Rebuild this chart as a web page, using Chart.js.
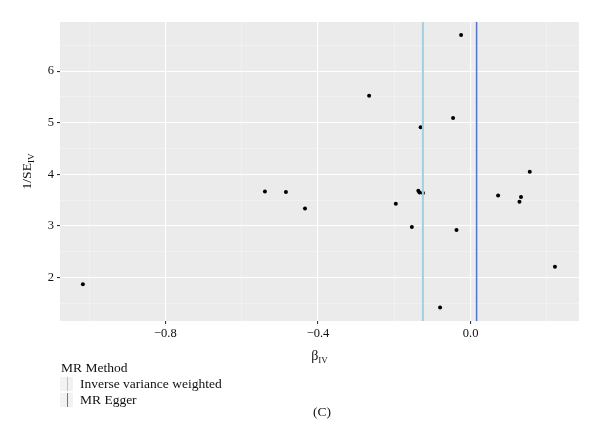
<!DOCTYPE html>
<html lang="en">
<head>
    <script src="https://cdn.jsdelivr.net/npm/chart.js"></script>
    <style>
        body { margin: 0; padding: 0; background: #ffffff; }
        #wrap { width: 600px; height: 439px; }
    </style>
</head>
<body>
    <div id="wrap"><canvas id="funnel" width="600" height="439"></canvas></div>
    <script>
        // Estimates
        const betaIV = [-1.016, -0.539, -0.484, -0.434, -0.266, -0.196, -0.154, -0.137, -0.134, -0.125,
                        -0.131, -0.046, -0.025, -0.037, -0.080, 0.072, 0.132, 0.128, 0.155, 0.221];
        const invSE  = [1.87, 3.67, 3.66, 3.34, 5.52, 3.43, 2.98, 3.68, 3.65, 3.64,
                        4.91, 5.09, 6.70, 2.92, 1.42, 3.59, 3.56, 3.47, 4.05, 2.21];

        // MR estimates (vertical lines)
        const methods = ['Inverse variance weighted', 'MR Egger'];
        const methodBeta = [-0.125, 0.0157];
        const methodColors = ['#a6cee3', '#5077c6'];

        const xMajor = [-0.8, -0.4, 0.0];
        const xMinor = [-1.0, -0.6, -0.2, 0.2];
        const yMajor = [2, 3, 4, 5, 6];
        const yMinor = [1.5, 2.5, 3.5, 4.5, 5.5, 6.5];
        const xRange = [-1.076, 0.284];
        const yRange = [1.16, 6.95];

        const serif = '"Liberation Serif", "Times New Roman", serif';

        function isMajor(list, v) {
            return list.some(m => Math.abs(m - v) < 1e-9);
        }

        const points = betaIV.map((b, i) => ({ x: b, y: invSE[i] }));

        const lineSets = methods.map((m, i) => ({
            type: 'line',
            label: m,
            data: [{ x: methodBeta[i], y: yRange[0] }, { x: methodBeta[i], y: yRange[1] }],
            borderColor: methodColors[i],
            borderWidth: i === 0 ? 2 : 1.5,
            pointRadius: 0,
            order: 0
        }));

        // grey panel behind the plot
        const panelBg = {
            id: 'panelBg',
            beforeDraw(chart) {
                const { ctx, chartArea: a } = chart;
                ctx.save();
                ctx.fillStyle = '#ffffff';
                ctx.fillRect(0, 0, chart.width, chart.height);
                ctx.fillStyle = '#ebebeb';
                ctx.fillRect(a.left, a.top, a.right - a.left, a.bottom - a.top);
                ctx.restore();
            }
        };

        // axis titles with subscripts, legend and panel tag
        const extras = {
            id: 'extras',
            afterDraw(chart) {
                const { ctx, chartArea: a } = chart;
                ctx.save();
                ctx.fillStyle = '#111111';
                ctx.textBaseline = 'alphabetic';

                // x title
                const cx = (a.left + a.right) / 2;
                ctx.font = '14px ' + serif;
                const wb = ctx.measureText('β').width;
                ctx.font = '9px ' + serif;
                const wi = ctx.measureText('IV').width;
                let x0 = cx - (wb + wi) / 2;
                ctx.font = '14px ' + serif;
                ctx.textAlign = 'left';
                ctx.fillText('β', x0, 360);
                ctx.font = '9px ' + serif;
                ctx.fillText('IV', x0 + wb, 363);

                // y title
                ctx.save();
                ctx.translate(31, (a.top + a.bottom) / 2);
                ctx.rotate(-Math.PI / 2);
                ctx.font = '13.5px ' + serif;
                const ws = ctx.measureText('1/SE').width;
                ctx.font = '9px ' + serif;
                const wv = ctx.measureText('IV').width;
                const y0 = -(ws + wv) / 2;
                ctx.font = '13.5px ' + serif;
                ctx.fillText('1/SE', y0, 0);
                ctx.font = '9px ' + serif;
                ctx.fillText('IV', y0 + ws, 3);
                ctx.restore();

                // legend
                ctx.font = '13.5px ' + serif;
                ctx.fillText('MR Method', 61, 372);
                const rowY = [384, 400];
                methods.forEach((m, i) => {
                    ctx.fillStyle = '#f2f2f2';
                    ctx.fillRect(60, rowY[i] - 7, 13, 14);
                    ctx.strokeStyle = methodColors[i];
                    ctx.lineWidth = 1;
                    ctx.beginPath();
                    ctx.moveTo(67.5, rowY[i] - 7);
                    ctx.lineTo(67.5, rowY[i] + 7);
                    ctx.stroke();
                    ctx.fillStyle = '#111111';
                    ctx.textBaseline = 'middle';
                    ctx.fillText(m, 80, rowY[i]);
                    ctx.textBaseline = 'alphabetic';
                });

                // tag
                ctx.textAlign = 'center';
                ctx.font = '13.5px ' + serif;
                ctx.fillText('(C)', 322, 416);
                ctx.restore();
            }
        };

        new Chart(document.getElementById('funnel'), {
            type: 'scatter',
            data: {
                datasets: [{
                    label: 'SNP',
                    data: points,
                    backgroundColor: '#000000',
                    borderColor: '#000000',
                    pointRadius: 2,
                    pointBorderWidth: 0,
                    order: 1
                }].concat(lineSets)
            },
            options: {
                responsive: false,
                animation: false,
                layout: { padding: { left: 0, top: 22, right: 21, bottom: 98 } },
                plugins: { legend: { display: false }, tooltip: { enabled: false } },
                scales: {
                    x: {
                        type: 'linear',
                        min: xRange[0],
                        max: xRange[1],
                        afterBuildTicks(s) {
                            s.ticks = xMinor.concat(xMajor).sort((p, q) => p - q).map(v => ({ value: v }));
                        },
                        afterFit(s) { s.height = 20; },
                        border: { display: false },
                        grid: {
                            color: c => isMajor(xMajor, c.tick.value) ? '#ffffff' : '#f5f5f5',
                            lineWidth: c => isMajor(xMajor, c.tick.value) ? 1.1 : 0.6,
                            tickColor: c => isMajor(xMajor, c.tick.value) ? '#333333' : 'rgba(0,0,0,0)',
                            tickLength: 3
                        },
                        ticks: {
                            autoSkip: false,
                            maxRotation: 0,
                            padding: 2,
                            color: '#111111',
                            font: { family: serif, size: 12.5 },
                            callback: v => isMajor(xMajor, v) ? v.toFixed(1).replace('-', '\u2212') : ''
                        }
                    },
                    y: {
                        type: 'linear',
                        min: yRange[0],
                        max: yRange[1],
                        afterBuildTicks(s) {
                            s.ticks = yMinor.concat(yMajor).sort((p, q) => p - q).map(v => ({ value: v }));
                        },
                        afterFit(s) { s.width = 60; },
                        border: { display: false },
                        grid: {
                            color: c => isMajor(yMajor, c.tick.value) ? '#ffffff' : '#f5f5f5',
                            lineWidth: c => isMajor(yMajor, c.tick.value) ? 1.1 : 0.6,
                            tickColor: c => isMajor(yMajor, c.tick.value) ? '#333333' : 'rgba(0,0,0,0)',
                            tickLength: 3
                        },
                        ticks: {
                            autoSkip: false,
                            padding: 3,
                            color: '#111111',
                            font: { family: serif, size: 12.5 },
                            callback: v => isMajor(yMajor, v) ? String(v) : ''
                        }
                    }
                }
            },
            plugins: [panelBg, extras]
        });
    </script>
</body>
</html>
